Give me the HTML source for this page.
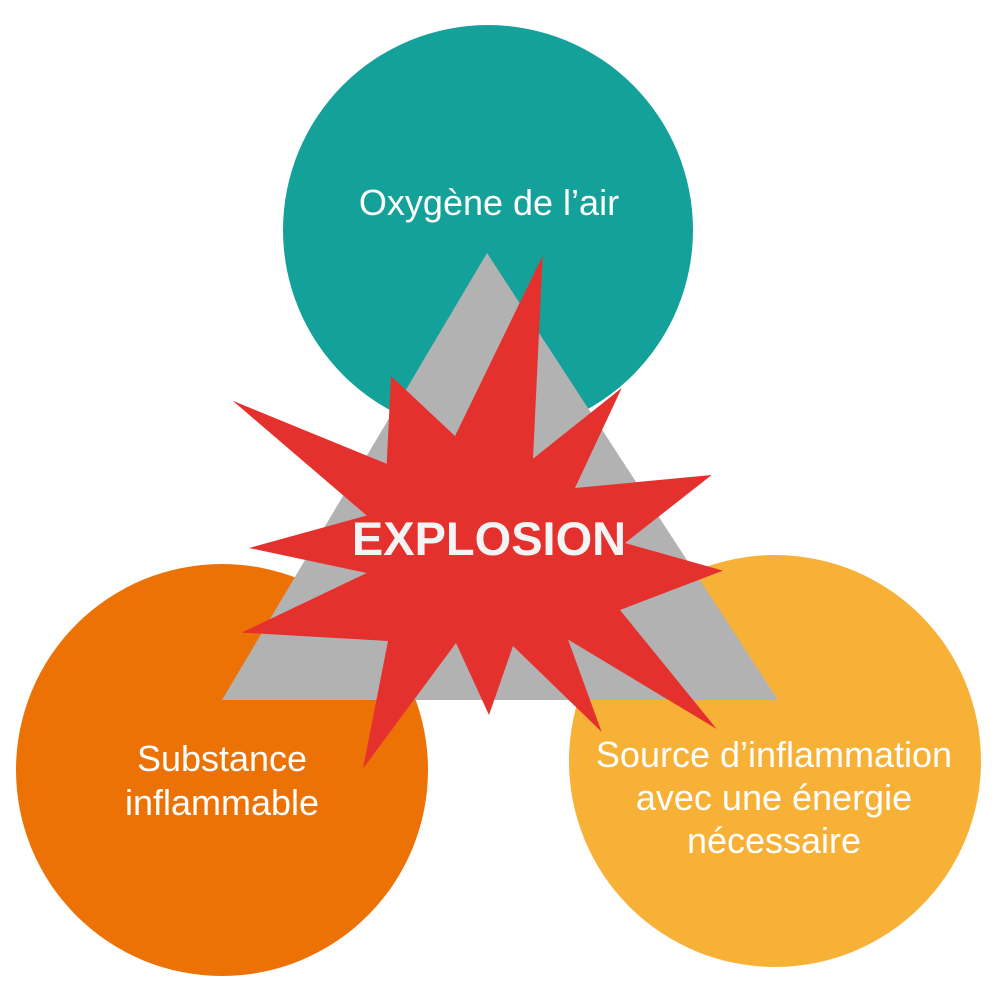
<!DOCTYPE html>
<html><head><meta charset="utf-8"><style>html,body{margin:0;padding:0;background:#fff}</style></head>
<body>
<svg width="1000" height="1000" viewBox="0 0 1000 1000" xmlns="http://www.w3.org/2000/svg" font-family="Liberation Sans, Arial, sans-serif">
<rect width="1000" height="1000" fill="#fff"/>
<circle cx="488" cy="230" r="205" fill="#14a19a"/>
<circle cx="222" cy="770" r="206" fill="#ec7205"/>
<circle cx="775" cy="761" r="206" fill="#f8b137"/>
<polygon points="487,253 222,700 778,700" fill="#b2b2b2"/>
<polygon fill="#e5312d" points="542.7,255.5 533,458.7 621.7,388 575,488 711.7,475 625,543 723,570.6 620,610 716.7,729 568,639.5 601.7,732 513,646 489,715 456,643 363,768.6 388,641 241.7,632.6 366.7,573 249,548 366.7,515.5 232.7,400.8 386.7,463.8 391,376 455,436"/>
<g fill="#fff" text-anchor="middle">
<text x="489" y="215" font-size="36">Oxygène de l’air</text>
<text x="489" y="555" font-size="47" font-weight="bold" fill="#f4f4f4">EXPLOSION</text>
<text x="222" y="771" font-size="36">Substance</text>
<text x="222" y="815" font-size="36">inflammable</text>
<text x="774" y="767" font-size="36">Source d’inflammation</text>
<text x="774" y="810" font-size="36">avec une énergie</text>
<text x="774" y="853" font-size="36">nécessaire</text>
</g>
</svg>
</body></html>
